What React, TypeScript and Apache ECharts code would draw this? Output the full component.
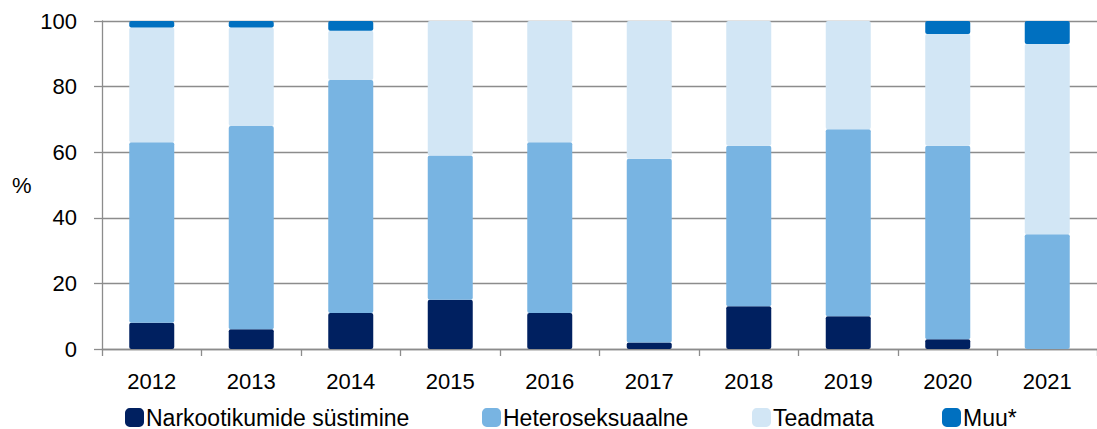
import React, { useEffect, useRef } from "react";
import * as echarts from "echarts";

const years = ["2012", "2013", "2014", "2015", "2016", "2017", "2018", "2019", "2020", "2021"];
const narkootikumid = [8, 6, 11, 15, 11, 2, 13, 10, 3, 0];
const heteroseksuaalne = [55, 62, 71, 44, 52, 56, 49, 57, 59, 35];
const teadmata = [35, 30, 15, 41, 37, 42, 38, 33, 34, 58];
const muu = [2, 2, 3, 0, 0, 0, 0, 0, 4, 7];

const seriesNames = ["Narkootikumide süstimine", "Heteroseksuaalne", "Teadmata", "Muu*"];
const seriesColors = ["#002060", "#78B4E2", "#D2E6F5", "#0070C0"];
const seriesValues = [narkootikumid, heteroseksuaalne, teadmata, muu];
const legendLefts = [125, 482, 752, 942];

const FONT = "'Liberation Sans', Arial, sans-serif";

export default function App() {
  const ref = useRef<HTMLDivElement>(null);
  useEffect(() => {
    document.body.style.margin = "0";
    if (!ref.current) return;
    const chart = echarts.init(ref.current, null, { renderer: "svg" });
    chart.setOption({
      animation: false,
      textStyle: { fontFamily: FONT },
      grid: { left: 102, top: 21, width: 1006, height: 328, containLabel: false },
      legend: seriesNames.map((n, i) => ({
        data: [n],
        left: legendLefts[i],
        top: 406,
        padding: 0,
        itemWidth: 19,
        itemHeight: 19,
        itemGap: 0,
        icon: "roundRect",
        selectedMode: false,
        textStyle: { fontSize: 23, color: "#000", fontFamily: FONT, padding: [0, 0, 0, -3] },
      })),
      xAxis: {
        type: "category",
        data: years,
        axisLine: { lineStyle: { color: "#8c8c8c", width: 1.3 } },
        axisTick: { show: true, length: 7, lineStyle: { color: "#8c8c8c", width: 1.3 } },
        axisLabel: { fontSize: 22, color: "#000", margin: 21, fontFamily: FONT },
      },
      yAxis: {
        type: "value",
        min: 0,
        max: 100,
        interval: 20,
        axisLine: { show: true, lineStyle: { color: "#8c8c8c", width: 1.3 } },
        axisTick: { show: true, length: 8, lineStyle: { color: "#8c8c8c", width: 1.3 } },
        axisLabel: { fontSize: 22, color: "#000", margin: 25, fontFamily: FONT },
        splitLine: { show: true, lineStyle: { color: "#8c8c8c", width: 1.3 } },
      },
      graphic: [
        {
          type: "text",
          left: 12,
          top: 174,
          style: { text: "%", fontSize: 22, fill: "#000", fontFamily: FONT },
        },
      ],
      series: seriesNames.map((n, i) => ({
        name: n,
        type: "bar",
        stack: "total",
        barWidth: 45,
        data: seriesValues[i],
        itemStyle: { color: seriesColors[i], borderRadius: 2 },
      })),
    });
    return () => chart.dispose();
  }, []);
  return <div ref={ref} style={{ width: 1097, height: 429 }} />;
}
